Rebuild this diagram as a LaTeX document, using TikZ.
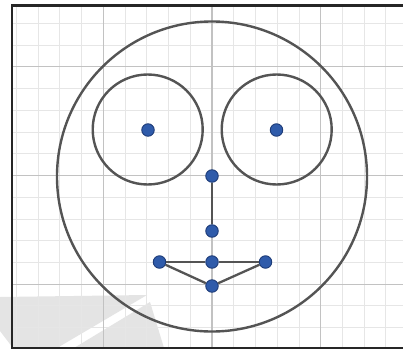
\documentclass[tikz,border=0pt]{standalone}
\begin{document}
\begin{tikzpicture}[x=1pt,y=-1pt,
  dot/.style={circle,fill=dotblue,draw=dotedge,line width=0.9pt,inner sep=0pt,minimum size=12.5pt},
  facel/.style={draw=linegrey,line width=2.4pt},
  link/.style={draw=linegrey,line width=2.3pt},
  minorgrid/.style={draw=gridminor,line width=0.9pt},
  majorgrid/.style={draw=gridmajor,line width=1.1pt}]
\definecolor{dotblue}{HTML}{2F5BAA}
\definecolor{dotedge}{HTML}{1E3C78}
\definecolor{linegrey}{HTML}{545454}
\definecolor{gridminor}{HTML}{E6E6E6}
\definecolor{gridmajor}{HTML}{C2C2C2}
\definecolor{wmgrey}{HTML}{E4E4E4}
\useasboundingbox (0,0) rectangle (403,350);
\clip (0,0) rectangle (403,350);
\fill[white] (0,0) rectangle (403,350);
% grey watermark shape
\fill[wmgrey] (0,297) -- (147,295) -- (57,348) -- (13,348) -- (0,331) -- cycle;
\fill[wmgrey] (74,348) -- (150,302) -- (164,348) -- cycle;
% grid
\begin{scope}
\clip (12,5.5) rectangle (410,348);
\foreach \k in {-9,...,9} {
  \draw[minorgrid] (212+\k*21.74,0) -- (212+\k*21.74,350);
  \draw[minorgrid] (0,175.5+\k*21.74) -- (410,175.5+\k*21.74);
}
\foreach \k in {-2,...,2} {
  \draw[majorgrid] (212+\k*108.7,0) -- (212+\k*108.7,350);
  \draw[majorgrid] (0,175.5+\k*108.7) -- (410,175.5+\k*108.7);
}
\end{scope}
% frame
\draw[line width=2.6pt,draw=black!85] (410,5.8) -- (12,5.8) -- (12,347.8) -- (410,347.8);
% face
\draw[facel] (212,176.5) circle (155);
\draw[facel] (147.7,129.5) circle (55);
\draw[facel] (276.7,129.5) circle (55);
% dots
\node[dot] (lp) at (148,130) {};
\node[dot] (rp) at (276.5,130) {};
\node[dot] (nt) at (212,176) {};
\node[dot] (nb) at (212,231) {};
\node[dot] (ml) at (159.5,262) {};
\node[dot] (mc) at (212,262) {};
\node[dot] (mr) at (265.5,262) {};
\node[dot] (mb) at (212,286) {};
\draw[link] (nt) -- (nb);
\draw[link] (ml) -- (mc) -- (mr);
\draw[link] (ml) -- (mb) -- (mr);
\end{tikzpicture}
\end{document}
